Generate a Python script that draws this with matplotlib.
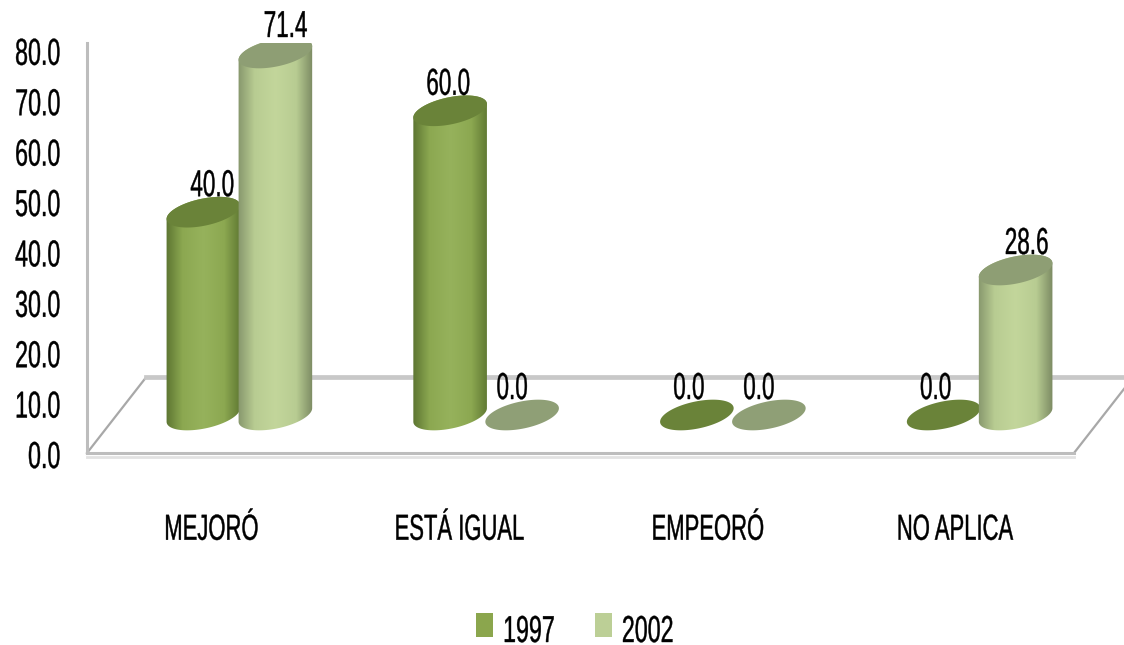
#!/usr/bin/env python3
import numpy as np
import matplotlib
matplotlib.use("Agg")
import matplotlib.pyplot as plt
from matplotlib.colors import LinearSegmentedColormap
from matplotlib.patches import Patch, PathPatch, Polygon
from matplotlib.path import Path
from matplotlib.patheffects import AbstractPathEffect
from matplotlib.transforms import Affine2D

categories = ["MEJORÓ", "ESTÁ IGUAL", "EMPEORÓ", "NO APLICA"]
series_names = ["1997", "2002"]
values_1997 = [40.0, 60.0, 0.0, 0.0]
values_2002 = [71.4, 0.0, 0.0, 28.6]
yticks = [0, 10, 20, 30, 40, 50, 60, 70, 80]

W, H = 1124, 645
LEFT, RIGHT, TOP, BOTTOM = 87, 1074, 43, 453
PX_X = (RIGHT - LEFT) / 4.0
PX_Y = 5.04
# 3d look: how far the bars stand back from the front of the floor
DEPTH_X = 29 / PX_X
DEPTH_Y = 38 / PX_Y
BAR_SHIFT = 36 / PX_X
BAR_SCALE = 1.006
A, B, THETA = 37.5, 13.5, np.radians(12)

COLORS = {
    "1997": {"cmap": [(0, "#5d7632"), (0.22, "#8ca851"), (0.5, "#96b25c"), (0.78, "#8ca851"), (1, "#5f7832")],
             "top": "#6a8339", "flat": "#6a8339", "key": "#8ba64d"},
    "2002": {"cmap": [(0, "#87976d"), (0.22, "#b8cc92"), (0.5, "#c3d69b"), (0.78, "#b8cc92"), (1, "#7c8b63")],
             "top": "#8e9e74", "flat": "#8f9f76", "key": "#bccf96"},
}
# pixel nudges of the value labels, the original places them by hand
LABEL_DX = {"1997": [9, -2, -8, -8], "2002": [10, -10, -10, 11]}
LABEL_DY = 26
CATEGORY_DX = [1, 2, 4, 4]


class Squeeze(AbstractPathEffect):
    """Narrows text horizontally, the original is a stretched image."""

    def __init__(self, sx=0.6, anchor="center", dx=0, dy=0):
        super().__init__()
        self.sx = sx
        self.anchor = anchor
        self.dx = dx
        self.dy = dy

    def draw_path(self, renderer, gc, tpath, affine, rgbFace=None):
        ext = tpath.get_extents()
        x0 = {"left": ext.x0, "right": ext.x1, "center": (ext.x0 + ext.x1) / 2}[self.anchor]
        squeeze = Affine2D().translate(-x0, 0).scale(self.sx, 1).translate(x0, 0)
        gc2 = renderer.new_gc()
        gc2.copy_properties(gc)
        gc2.set_foreground(rgbFace)
        gc2.set_linewidth(0.3)
        renderer.draw_path(gc2, tpath, squeeze + affine + Affine2D().translate(self.dx, self.dy), rgbFace)
        gc2.restore()


def ellipse_xy(xc, yc, t):
    px = A * np.cos(t) * np.cos(THETA) - B * np.sin(t) * np.sin(THETA)
    py = A * np.cos(t) * np.sin(THETA) + B * np.sin(t) * np.cos(THETA)
    return np.column_stack([xc + px / PX_X, yc + py / PX_Y])


def draw_cylinder(ax, xc, top, style, flat):
    base = DEPTH_Y
    t0 = np.arctan2(-B * np.sin(THETA), A * np.cos(THETA))
    if not flat:
        lower = ellipse_xy(xc, base, np.linspace(t0, t0 - np.pi, 60))
        upper = ellipse_xy(xc, top, np.linspace(t0 - np.pi, t0 - 2 * np.pi, 60))
        outline = np.vstack([lower, upper, lower[:1]])
        clip = PathPatch(Path(outline), transform=ax.transData, fc="none", ec="none")
        ax.add_patch(clip)
        half = A / PX_X
        cmap = LinearSegmentedColormap.from_list("bar", style["cmap"])
        img = ax.imshow(np.linspace(0, 1, 128)[None, :], cmap=cmap, aspect="auto",
                        extent=(xc - half, xc + half, base - 4, top + 4), zorder=3)
        img.set_clip_path(clip)
    color = style["flat"] if flat else style["top"]
    cap = ellipse_xy(xc, top, np.linspace(0, 2 * np.pi, 120))
    ax.add_patch(Polygon(cap, closed=True, fc=color, ec="none", zorder=3))


plt.rcParams["font.family"] = ["Liberation Sans", "DejaVu Sans"]
fig = plt.figure(figsize=(W / 100, H / 100), dpi=100)
ax = fig.add_axes([LEFT / W, 1 - BOTTOM / H, (RIGHT - LEFT) / W, (BOTTOM - TOP) / H])

x = np.arange(len(categories))

# floor
GREY = "#bdbdbd"
back = 15.0
skew = 59 / PX_X
ax.plot([-0.5, -0.5 + skew], [0, back], color="#a8a8a8", lw=1.6, clip_on=False, zorder=1)
ax.plot([-0.5 + skew, 3.5 + skew], [back, back], color="#c8c8c8", lw=3.4, clip_on=False, zorder=1)
ax.plot([3.5, 3.5 + skew], [0, back], color="#a8a8a8", lw=1.6, clip_on=False, zorder=1)
ax.plot([-0.5, 3.5], [-0.7, -0.7], color="#e2e2e2", lw=2, clip_on=False, zorder=1)

for name, vals, sign in [("1997", values_1997, -1), ("2002", values_2002, 1)]:
    for i, v in enumerate(vals):
        xc = x[i] + DEPTH_X + sign * BAR_SHIFT
        top = DEPTH_Y + v * BAR_SCALE
        draw_cylinder(ax, xc, top, COLORS[name], v == 0)
        ax.annotate(f"{v:.1f}", (xc, top), xytext=(LABEL_DX[name][i], LABEL_DY),
                    textcoords="offset pixels", ha="center", va="center", fontsize=27,
                    color="black", zorder=5, path_effects=[Squeeze(0.6)])

ax.set_xlim(-0.5, 3.5)
ax.set_ylim(0, (BOTTOM - TOP) / PX_Y)
ax.set_yticks(yticks)
ax.set_yticklabels([f"{v:.1f}" for v in yticks], fontsize=27)
ax.set_xticks(x)
ax.set_xticklabels(categories, fontsize=26)
ax.tick_params(axis="y", length=0, pad=8)
ax.tick_params(axis="x", length=0, pad=43)
for lab in ax.get_yticklabels():
    lab.set_path_effects([Squeeze(0.62, "right", dx=-15, dy=-1)])
for lab, dx in zip(ax.get_xticklabels(), CATEGORY_DX):
    lab.set_path_effects([Squeeze(0.61, dx=dx)])

for side in ["top", "right"]:
    ax.spines[side].set_visible(False)
for side in ["left", "bottom"]:
    ax.spines[side].set_color(GREY)
    ax.spines[side].set_linewidth(2.2)

handles = [Patch(fc=COLORS[n]["key"], ec="none", label=n) for n in series_names]
fs = 27
em = fs * 100 / 72
leg = fig.legend(handles=handles, ncol=2, frameon=False, fontsize=fs,
                 handlelength=17 / em, handleheight=23 / em,
                 handletextpad=9 / em, columnspacing=10 / em,
                 borderpad=0, borderaxespad=0,
                 loc="center left", bbox_to_anchor=(476 / W, 1 - 628 / H))
for txt in leg.get_texts():
    txt.set_path_effects([Squeeze(0.62, "left", dy=-4)])

fig.savefig("out.png", dpi=100)
